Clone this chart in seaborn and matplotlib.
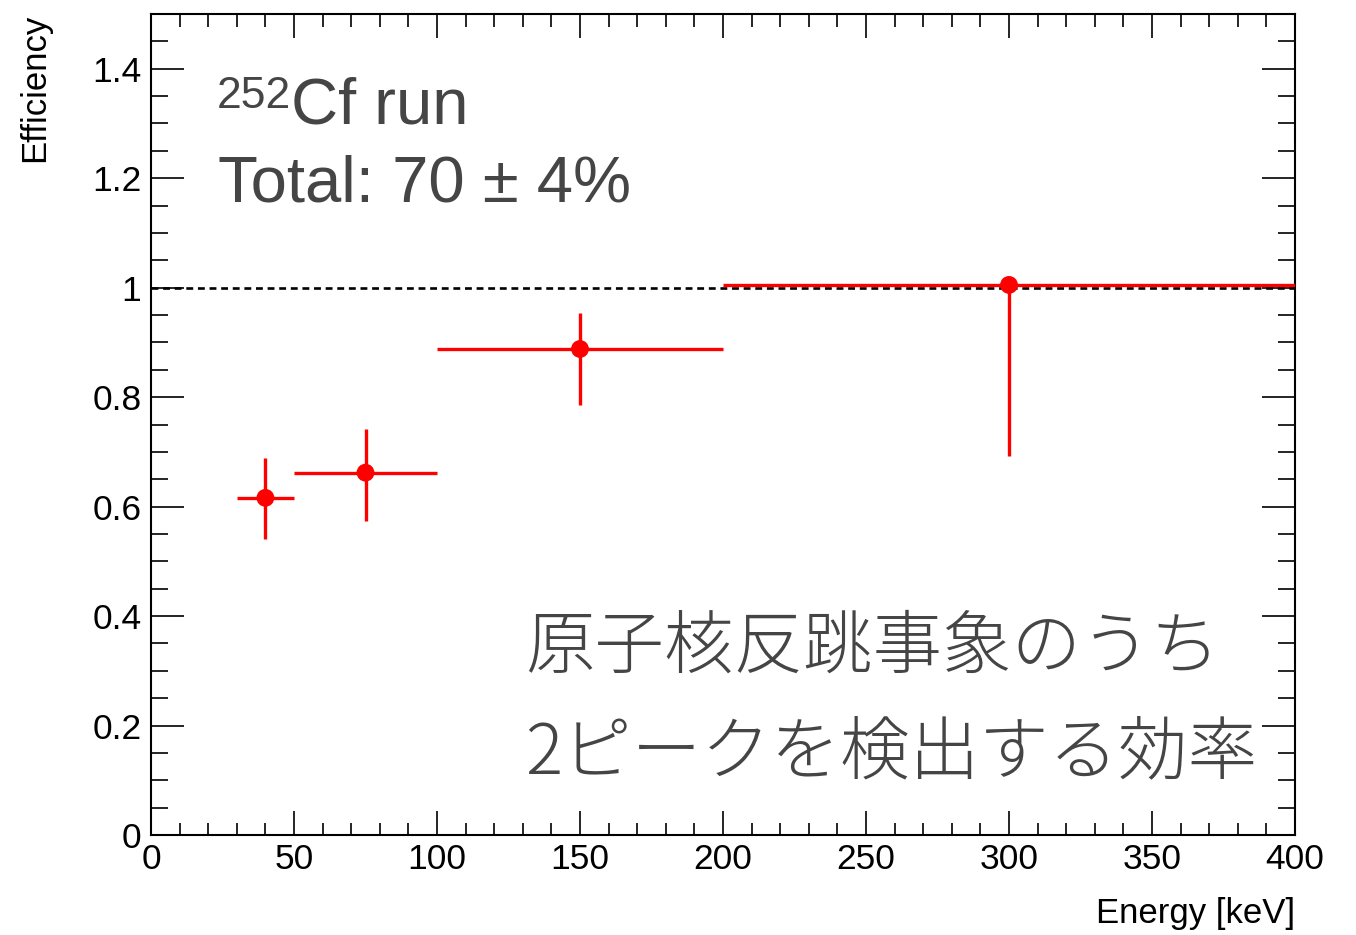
import numpy as np
import pandas as pd
import matplotlib
matplotlib.use("Agg")
import matplotlib.pyplot as plt
from matplotlib.ticker import MultipleLocator
import seaborn as sns

# ---- data ----
energy = [40, 75, 150, 300]
bin_low = [30, 50, 100, 200]
bin_high = [50, 100, 200, 400]
efficiency = [0.616, 0.662, 0.888, 1.005]
err_low = [0.076, 0.088, 0.102, 0.312]
err_high = [0.072, 0.079, 0.065, 0.0]

x_ticks = [0, 50, 100, 150, 200, 250, 300, 350, 400]
y_ticks = [0, 0.2, 0.4, 0.6, 0.8, 1.0, 1.2, 1.4]
y_tick_labels = ["0", "0.2", "0.4", "0.6", "0.8", "1", "1.2", "1.4"]

title_iso = "252"
title_run = "Cf run"
title_total = "Total: 70 ± 4%"
jp_line1 = "原子核反跳事象のうち"
jp_line2 = "2ピークを検出する効率"
x_label = "Energy [keV]"
y_label = "Efficiency"

df = pd.DataFrame({"energy": energy, "eff": efficiency})

sns.set_theme(style="ticks")
plt.rcParams["font.family"] = ["Liberation Sans", "DejaVu Sans"]

W, H = 1356, 935
fig = plt.figure(figsize=(W / 100, H / 100), dpi=100)
ax = fig.add_axes([151 / W, (H - 835) / H, (1295 - 151) / W, (835 - 14) / H])

# reference line at 1
ax.axhline(1.0, color="black", lw=1.9, ls=(0, (2.6, 1.8)), zorder=2)

xe = np.array([np.array(energy) - np.array(bin_low), np.array(bin_high) - np.array(energy)])
ye = np.array([err_low, err_high])
ax.errorbar(energy, efficiency, xerr=xe, yerr=ye, fmt="none",
            ecolor="#ff0000", elinewidth=2.4, capsize=0, zorder=3)
sns.scatterplot(data=df, x="energy", y="eff", ax=ax, color="#ff0000",
                s=165, edgecolor="none", zorder=4, legend=False)

ax.set_xlim(0, 400)
ax.set_ylim(0, 1.5)
ax.set_xticks(x_ticks)
ax.set_xticklabels([str(v) for v in x_ticks])
ax.set_yticks(y_ticks)
ax.set_yticklabels(y_tick_labels)
ax.xaxis.set_minor_locator(MultipleLocator(10))
ax.yaxis.set_minor_locator(MultipleLocator(0.05))
ax.set_xlabel("")
ax.set_ylabel("")

for s in ax.spines.values():
    s.set_visible(True)
    s.set_linewidth(1.5)
    s.set_color("black")

ax.tick_params(axis="both", which="both", direction="in", top=True, right=True,
               color="black", width=1.2)
ax.tick_params(axis="y", which="major", length=24, labelsize=25.5, pad=7)
ax.tick_params(axis="y", which="minor", length=12)
ax.tick_params(axis="x", which="major", length=17, labelsize=25.5, pad=6)
ax.tick_params(axis="x", which="minor", length=9)
for lab in ax.get_xticklabels() + ax.get_yticklabels():
    lab.set_color("black")

# axis titles (ROOT style, at axis ends)
fig.text(35 / W, (H - 14) / H, y_label, rotation=90, ha="center", va="top",
         fontsize=25, color="black")
fig.text(1295 / W, (H - 914) / H, x_label, ha="right", va="center",
         fontsize=25, color="black")

grey = "#454545"
fig.text(217 / W, (H - 108) / H, title_iso, ha="left", va="baseline",
         fontsize=32, color=grey)
fig.text(291 / W, (H - 124) / H, title_run, ha="left", va="baseline",
         fontsize=47, color=grey)
fig.text(218 / W, (H - 202) / H, title_total, ha="left", va="baseline",
         fontsize=47, color=grey)

jp_font = ["Noto Sans CJK JP", "DejaVu Sans"]
fig.text(525 / W, (H - 648) / H, jp_line1, ha="left", va="center",
         fontsize=50, color=grey, family=jp_font, weight="light")
fig.text(525 / W, (H - 754) / H, jp_line2, ha="left", va="center",
         fontsize=50, color=grey, family=jp_font, weight="light")

fig.savefig("out.png", dpi=100, facecolor="white")
